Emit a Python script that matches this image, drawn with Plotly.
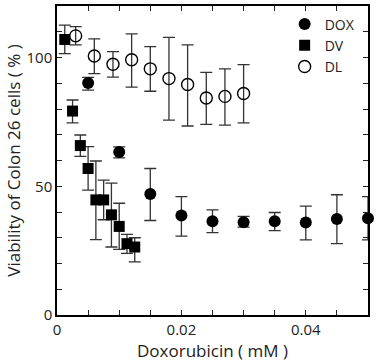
import plotly.graph_objects as go

# ---------------- data ----------------
dox_x = [0.005, 0.010, 0.015, 0.020, 0.025, 0.030, 0.035, 0.040, 0.045, 0.050]
dox_y = [90.1, 63.3, 47.0, 38.6, 36.4, 36.0, 36.4, 35.9, 37.3, 37.6]
dox_ep = [2.2, 2.0, 9.9, 7.4, 4.4, 2.3, 3.4, 6.4, 9.4, 8.4]
dox_em = [2.8, 2.3, 10.3, 8.0, 4.4, 1.9, 3.6, 6.7, 9.6, 8.4]

dv_x = [0.00125, 0.0025, 0.00375, 0.005, 0.00625, 0.0075, 0.00875, 0.010, 0.01125, 0.0125]
dv_y = [107.0, 79.2, 65.8, 56.9, 44.7, 44.7, 38.9, 34.4, 27.7, 26.4]
dv_ep = [5.6, 4.3, 4.1, 8.5, 15.1, 7.7, 12.3, 9.0, 3.6, 3.6]
dv_em = [5.5, 4.6, 4.2, 8.4, 15.4, 7.7, 12.5, 8.9, 3.8, 5.8]

dl_x = [0.003, 0.006, 0.009, 0.012, 0.015, 0.018, 0.021, 0.024, 0.027, 0.030]
dl_y = [108.4, 100.6, 97.4, 99.1, 95.6, 91.8, 89.5, 84.3, 84.9, 86.0]
dl_ep = [3.6, 6.6, 4.9, 10.1, 8.6, 16.0, 15.4, 9.9, 10.7, 11.2]
dl_em = [3.5, 6.9, 5.0, 10.6, 8.7, 16.1, 16.1, 10.3, 11.2, 11.4]

x_tickvals = [0, 0.005, 0.01, 0.015, 0.02, 0.025, 0.03, 0.035, 0.04, 0.045, 0.05]
x_ticktext = ["0", "", "", "", "0.02", "", "", "", "0.04", "", ""]
y_tickvals = [0, 10, 20, 30, 40, 50, 60, 70, 80, 90, 100, 110, 120]
y_ticktext = ["0", "", "", "", "", "50", "", "", "", "", "100", "", ""]

FONT = "Open Sans"
ERR_COLOR = "#333333"

def err(p, m):
    return dict(type="data", symmetric=False, array=p, arrayminus=m,
                color=ERR_COLOR, thickness=1.3, width=6)

fig = go.Figure()
fig.add_trace(go.Scatter(
    x=dox_x, y=dox_y, mode="markers", name="DOX",
    marker=dict(symbol="circle", size=12, color="black"),
    error_y=err(dox_ep, dox_em), cliponaxis=False))
fig.add_trace(go.Scatter(
    x=dv_x, y=dv_y, mode="markers", name="DV",
    marker=dict(symbol="square", size=11, color="black"),
    error_y=err(dv_ep, dv_em), cliponaxis=False))
fig.add_trace(go.Scatter(
    x=dl_x, y=dl_y, mode="markers", name="DL",
    marker=dict(symbol="circle-open", size=12, color="black", line=dict(width=1.4)),
    error_y=err(dl_ep, dl_em), cliponaxis=False))

axis_common = dict(
    showline=True, linecolor="black", linewidth=1.5, mirror="ticks",
    ticks="inside", ticklen=5, tickwidth=1.2, tickcolor="#222",
    showgrid=False, zeroline=False,
    tickfont=dict(family=FONT, size=15, color="#222"),
)

fig.update_xaxes(
    range=[0, 0.05], tickmode="array", tickvals=x_tickvals, ticktext=x_ticktext,
    title=dict(text="Doxorubicin ( mM )", font=dict(family=FONT, size=17, color="#222"), standoff=4),
    **axis_common)
fig.update_yaxes(
    range=[0, 120], tickmode="array", tickvals=y_tickvals, ticktext=y_ticktext,
    title=dict(text="Viability of Colon 26 cells ( % )\u00a0\u00a0\u00a0\u00a0\u00a0\u00a0",
               font=dict(family=FONT, size=17, color="#222"), standoff=2),
    **axis_common)

fig.update_layout(
    width=379, height=363,
    margin=dict(l=57, r=11, t=4, b=48),
    paper_bgcolor="white", plot_bgcolor="white",
    font=dict(family=FONT, color="#222"),
    showlegend=True,
    legend=dict(x=0.732, y=0.992, xanchor="left", yanchor="top",
                bgcolor="rgba(0,0,0,0)", borderwidth=0,
                font=dict(family=FONT, size=14, color="#222"),
                tracegroupgap=0, itemwidth=30),
)

fig.write_html("out.html", config={"displayModeBar": False},
               post_script="document.body.style.margin='0';")
